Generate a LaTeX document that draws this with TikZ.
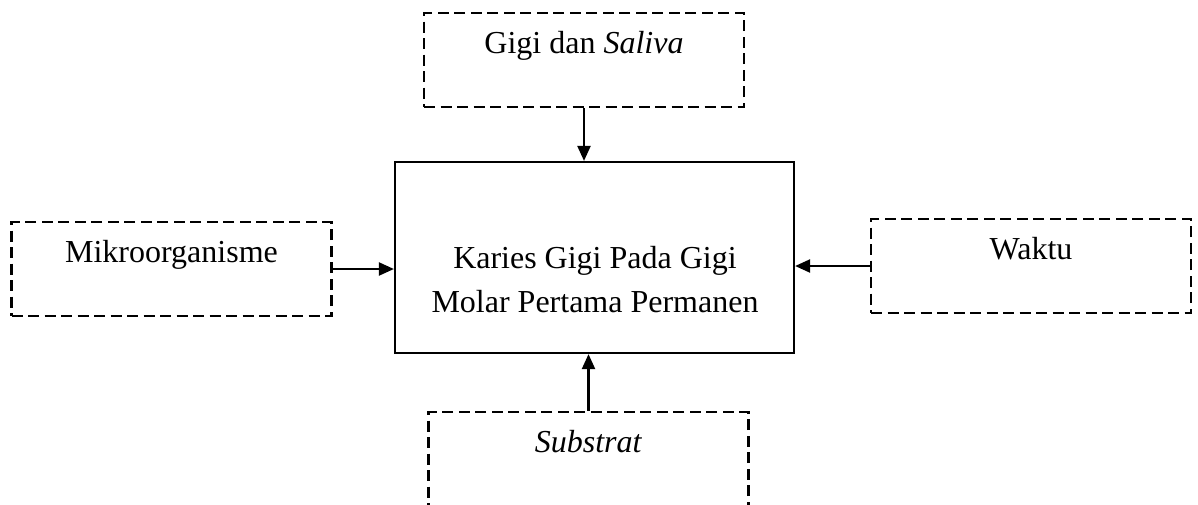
\documentclass[tikz,border=0pt]{standalone}
\usepackage{fontspec}
\setmainfont{Liberation Serif}
\usetikzlibrary{positioning,arrows.meta}

\begin{document}
\begin{tikzpicture}[x=1pt, y=-1pt,
    faktor/.style={draw, dash pattern=on 11pt off 5.5pt, line width=2.2pt, inner sep=0pt,
      minimum width=320pt, text height=40pt, text depth=54pt, font=\fontsize{32}{44}\selectfont},
    pusat/.style={draw, line width=2.2pt, minimum width=399pt, minimum height=191pt, inner sep=0pt},
    panah/.style={line width=2.2pt, -{Triangle[length=15pt,width=13pt]}}]
  \useasboundingbox (0,0) rectangle (1198,504);
  % central box
  \node[pusat] (core) at (594.5,257.5) {};
  \node[align=center, anchor=north, inner sep=0pt, font=\fontsize{32}{44}\selectfont] (coretext) at (595,246) {Karies Gigi Pada Gigi\\Molar Pertama Permanen};
  % the four factors around it
  \node[faktor] (gigi) at (584,60) {Gigi dan \textit{Saliva}};
  \node[faktor] (mikro) at (171.5,269) {Mikroorganisme};
  \node[faktor] (waktu) at (1031,266) {Waktu};
  \node[faktor] (substrat) at (588.5,459) {\textit{Substrat}};
  % arrows into the centre
  \draw[panah] (gigi.south) -- (gigi.south |- core.north);
  \draw[panah] (mikro.east) -- (mikro.east -| core.west);
  \draw[panah] (waktu.west) -- (waktu.west -| core.east);
  \draw[panah] (substrat.north) -- (substrat.north |- core.south);
\end{tikzpicture}
\end{document}
